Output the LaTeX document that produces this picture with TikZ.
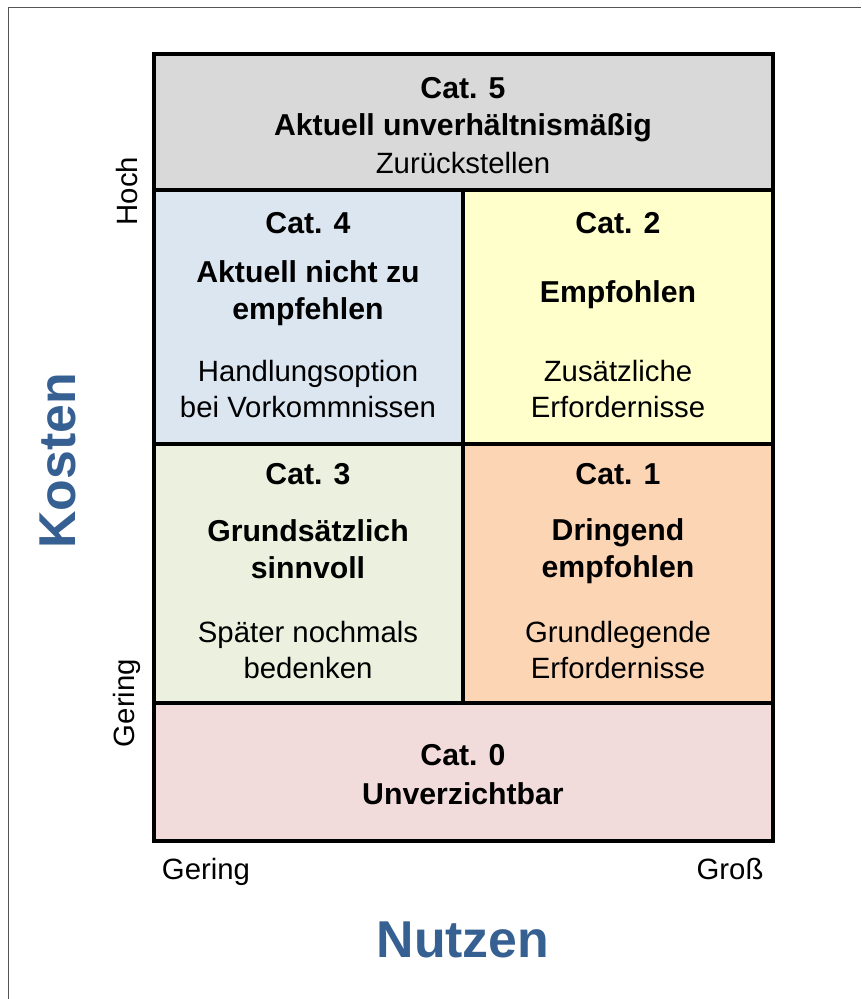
\documentclass[tikz,border=0pt]{standalone}
\usepackage{fontspec}
\setmainfont{Liberation Sans}
\usepackage{tikz}

\definecolor{catgray}{HTML}{D9D9D9}
\definecolor{catblue}{HTML}{DCE6F1}
\definecolor{catyellow}{HTML}{FFFFCC}
\definecolor{catgreen}{HTML}{EBF1DE}
\definecolor{catorange}{HTML}{FCD5B4}
\definecolor{catpink}{HTML}{F2DCDB}
\definecolor{axisblue}{HTML}{376092}
\definecolor{framegray}{HTML}{555555}

\tikzset{
    cell/.style={draw=black, line width=2.3pt},
    txt/.style={font=\fontsize{16.7}{21}\selectfont, align=center, inner sep=0pt},
    head/.style={txt, font=\fontsize{17.2}{21}\selectfont\bfseries},
    axis/.style={font=\fontsize{29.5}{34}\selectfont\bfseries, text=axisblue, inner sep=0pt}
}

\begin{document}
\begin{tikzpicture}[x=0.02cm, y=-0.02cm]
    \useasboundingbox (0,0) rectangle (861,999);
    % frame
    \draw[framegray, line width=1pt] (8.5,999) -- (8.5,7.5) -- (861,7.5);

    % cells
    \filldraw[cell, fill=catgray]   (154,54)  rectangle (773,190);
    \filldraw[cell, fill=catblue]   (154,190) rectangle (463,444);
    \filldraw[cell, fill=catyellow] (463,190) rectangle (773,444);
    \filldraw[cell, fill=catgreen]  (154,444) rectangle (463,703);
    \filldraw[cell, fill=catorange] (463,444) rectangle (773,703);
    \filldraw[cell, fill=catpink]   (154,703) rectangle (773,841);

    %Cat. 5
    \node[head] (h5) at (463,88) {Cat. 5};
    \node[head] (n5) at (463,128) {Aktuell unverhältnismäßig};
    \node[txt]  (d5) at (463,163) {Zurückstellen};
    %Cat. 4
    \node[head] (h4) at (308,223) {Cat. 4};
    \node[head] (n4) at (308,293) {Aktuell nicht zu\\empfehlen};
    \node[txt]  (d4) at (308,389) {Handlungsoption\\bei Vorkommnissen};
    %Cat. 2
    \node[head] (h2) at (618,223) {Cat. 2};
    \node[head] (n2) at (618,295) {Empfohlen};
    \node[txt]  (d2) at (618,389) {Zusätzliche\\Erfordernisse};
    %Cat. 3
    \node[head] (h3) at (308,474) {Cat. 3};
    \node[head] (n3) at (308,549) {Grundsätzlich\\sinnvoll};
    \node[txt]  (d3) at (308,650) {Später nochmals\\bedenken};
    %Cat. 1
    \node[head] (h1) at (618,474) {Cat. 1};
    \node[head] (n1) at (618,551) {Dringend\\empfohlen};
    \node[txt]  (d1) at (618,650) {Grundlegende\\Erfordernisse};
    %Cat. 0
    \node[head] (h0) at (463,755) {Cat. 0};
    \node[head] (n0) at (463,794) {Unverzichtbar};

    % axes
    \node[txt, rotate=90] (hoch) at (127,191) {Hoch};
    \node[txt, rotate=90] (yger) at (127,703) {Gering};
    \node[axis, rotate=90] (kosten) at (58,461) {Kosten};
    \node[txt, anchor=base] (xger) at (206,879) {Gering};
    \node[txt, anchor=base] (gross) at (730,879) {Groß};
    \node[axis] (nutzen) at (463,940) {Nutzen};
\end{tikzpicture}
\end{document}
